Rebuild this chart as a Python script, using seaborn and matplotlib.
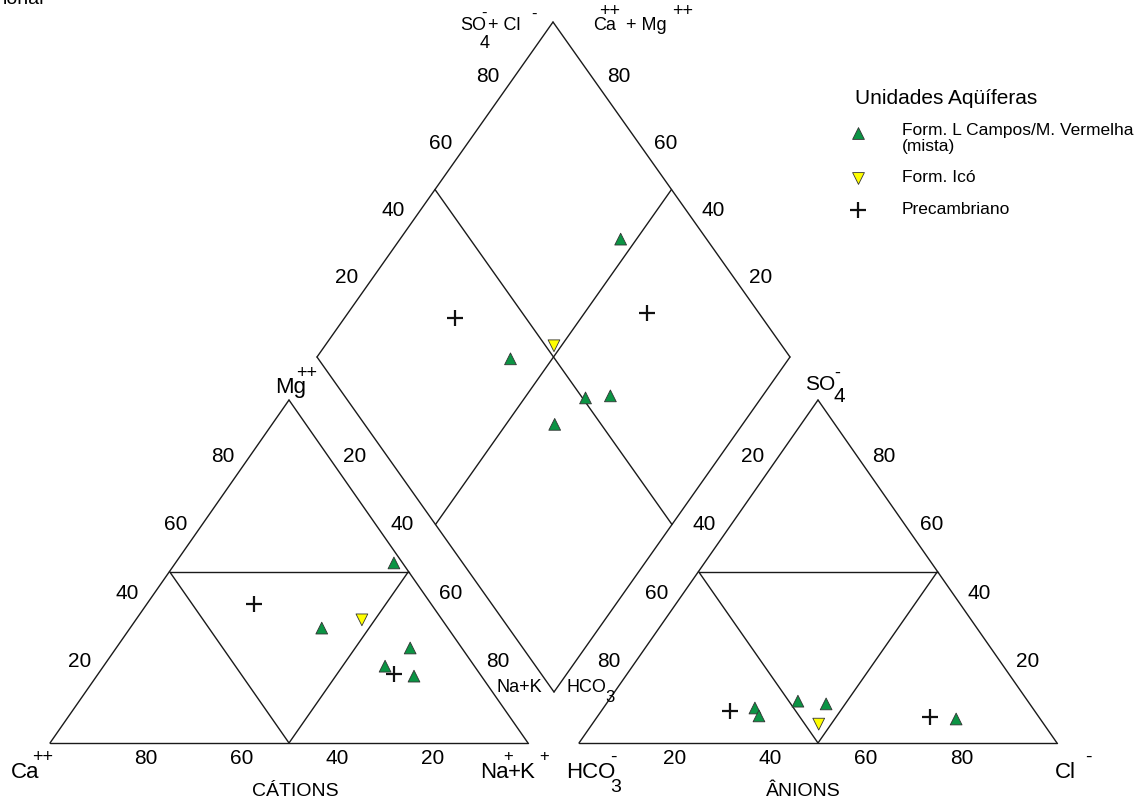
import numpy as np
import pandas as pd
import matplotlib
matplotlib.use("Agg")
import matplotlib.pyplot as plt
import seaborn as sns

# ---------------- data (percent of meq/L) ----------------
groups = (["Form. L Campos/M. Vermelha (mista)"] * 5
          + ["Form. Icó"] + ["Precambriano"] * 2)
ca   = [1.8, 26.4, 10.8, 18.7, 14.1, 16.8, 37.1, 18.0]
mg   = [52.5, 33.5, 27.7, 22.4, 19.5, 35.9, 40.5, 20.1]
nak  = [45.7, 40.1, 61.5, 58.9, 66.4, 47.3, 22.4, 61.9]
hco3 = [17.6, 58.1, 48.1, 58.4, 42.6, 47.1, 63.8, 22.8]
so4  = [7.0, 10.2, 12.2, 7.9, 11.4, 5.5, 9.3, 7.6]
cl   = [75.4, 31.7, 39.7, 33.7, 46.0, 47.4, 26.9, 69.6]
tick_values = [20, 40, 60, 80]

sns.set_theme(style="white")
plt.rcParams["font.family"] = ["Liberation Sans", "DejaVu Sans"]
plt.rcParams["text.color"] = "black"

# ---------------- geometry (canvas units = pixels) ----------------
CA_V, NA_V, MG_V = np.array([50, 743.]), np.array([528, 743.]), np.array([289, 400.])
HC_V, CL_V, SO_V = np.array([579, 743.]), np.array([1057, 743.]), np.array([818, 400.])
# drawn diamond frame
D_B, D_L, D_R = np.array([554, 692.]), np.array([317, 357.]), np.array([790, 357.])
D_T = D_L + D_R - D_B
# projection of samples into the diamond (standard Piper construction:
# sides parallel to and as long as the triangle sides)
P_B = np.array([553.5, 708.])
P_L = P_B + (MG_V - NA_V)
P_R = P_B + (SO_V - HC_V)

def tri_point(a, b, c, pa, pb, pc):
    return (a * pa + b * pb + c * pc) / 100.0

rows = []
for i, g in enumerate(groups):
    p = tri_point(ca[i], nak[i], mg[i], CA_V, NA_V, MG_V)
    rows.append((g, p[0], p[1]))
    p = tri_point(hco3[i], cl[i], so4[i], HC_V, CL_V, SO_V)
    rows.append((g, p[0], p[1]))
    s = (so4[i] + cl[i]) / 100.0
    c = (ca[i] + mg[i]) / 100.0
    p = P_B + s * (P_R - P_B) + c * (P_L - P_B)
    rows.append((g, p[0], p[1]))
df = pd.DataFrame(rows, columns=["group", "x", "y"])

fig = plt.figure(figsize=(11.47, 8.02), dpi=100)
ax = fig.add_axes([0, 0, 1, 1])
ax.set_axis_off()

LC, LW = "#1a1a1a", 1.0

def seg(p, q):
    ax.plot([p[0], q[0]], [p[1], q[1]], color=LC, lw=LW, zorder=1)

def triangle(A, B, C):
    for p, q in [(A, B), (B, C), (C, A)]:
        seg(p, q)
    mab, mac, mbc = (A + B) / 2, (A + C) / 2, (B + C) / 2
    seg(mac, mbc); seg(mab, mac); seg(mab, mbc)

triangle(CA_V, NA_V, MG_V)
triangle(HC_V, CL_V, SO_V)
for p, q in [(D_B, D_R), (D_R, D_T), (D_T, D_L), (D_L, D_B)]:
    seg(p, q)
seg((D_T + D_L) / 2, (D_B + D_R) / 2)
seg((D_T + D_R) / 2, (D_B + D_L) / 2)

# ---------------- tick labels ----------------
TFS = 15
nl = np.array([-0.821, -0.572]) * 22
nr = np.array([0.821, -0.572]) * 22
def tl(p, t):
    ax.text(p[0], p[1], t, ha="center", va="center", fontsize=TFS, color="black")
for v in tick_values:
    f = v / 100.0
    t = str(v)
    tl(NA_V + f * (CA_V - NA_V) + np.array([0, 15]), t)
    tl(CA_V + f * (MG_V - CA_V) + nl, t)
    tl(MG_V + f * (NA_V - MG_V) + nr, t)
    tl(HC_V + f * (CL_V - HC_V) + np.array([0, 15]), t)
    tl(SO_V + f * (HC_V - SO_V) + nl, t)
    tl(CL_V + f * (SO_V - CL_V) + nr, t)
    tl(D_L + f * (D_T - D_L) + np.array([-0.816, -0.578]) * 22, t)
    tl(D_R + f * (D_T - D_R) + np.array([0.816, -0.578]) * 22, t)

def txt(x, y, s, fs, ha="left"):
    ax.text(x, y, s, ha=ha, va="center", fontsize=fs, color="black")

# vertex labels
txt(11, 772, "Ca", 16); txt(32, 757, "++", 13)
txt(480, 772, "Na", 16); txt(503, 757, "+", 12); txt(508, 772, "+K", 16); txt(539, 757, "+", 12)
txt(566, 772, "HCO", 16); txt(610, 788, "3", 14); txt(610, 757, "-", 14)
txt(1055, 772, "Cl", 16); txt(1085, 757, "-", 14)
txt(275, 387, "Mg", 16); txt(296, 373, "++", 13)
txt(805, 384, "SO", 15); txt(834, 373, "-", 13); txt(834, 397, "4", 15)
txt(295, 792, "CÁTIONS", 14, ha="center")
txt(803, 792, "ÂNIONS", 14, ha="center")
txt(497, 687, "Na+K", 13)
txt(566, 687, "HCO", 13); txt(605, 698, "3", 12)
# top labels
txt(460, 25, "SO", 13); txt(480, 43, "4", 13); txt(481, 13, "-", 12)
txt(488, 25, "+ Cl", 13); txt(531, 14, "-", 12)
txt(593, 25, "Ca", 13); txt(599, 12, "++", 13)
txt(626, 25, "+ Mg", 13); txt(672, 12, "++", 13)
txt(3, 0, "ional", 14)

# ---------------- points ----------------
pal = {"Form. L Campos/M. Vermelha (mista)": "#0b9444", "Form. Icó": "#ffff00"}
mk = {"Form. L Campos/M. Vermelha (mista)": "^", "Form. Icó": "v"}
filled = df[df["group"] != "Precambriano"]
sns.scatterplot(data=filled, x="x", y="y", hue="group", style="group",
                palette=pal, markers=mk, s=72, edgecolor="#333333",
                linewidth=0.6, legend=False, ax=ax, zorder=3)
plus = df[df["group"] == "Precambriano"]
sns.scatterplot(data=plus, x="x", y="y", marker="+", color="#111111",
                s=130, linewidth=1.6, legend=False, ax=ax, zorder=3)

# ---------------- legend ----------------
txt(855, 98, "Unidades Aqüíferas", 15)
ax.scatter([858], [133], marker="^", s=72, color="#0b9444", edgecolor="#333333", linewidth=0.6)
txt(902, 130, "Form. L Campos/M. Vermelha", 12.5)
txt(902, 146, "(mista)", 12.5)
ax.scatter([858], [178], marker="v", s=72, color="#ffff00", edgecolor="#333333", linewidth=0.6)
txt(902, 178, "Form. Icó", 12.5)
ax.scatter([858], [210], marker="+", s=130, color="#111111", linewidth=1.6)
txt(902, 210, "Precambriano", 12.5)

ax.set_xlim(0, 1147)
ax.set_ylim(802, 0)
fig.savefig("out.png", dpi=100)
